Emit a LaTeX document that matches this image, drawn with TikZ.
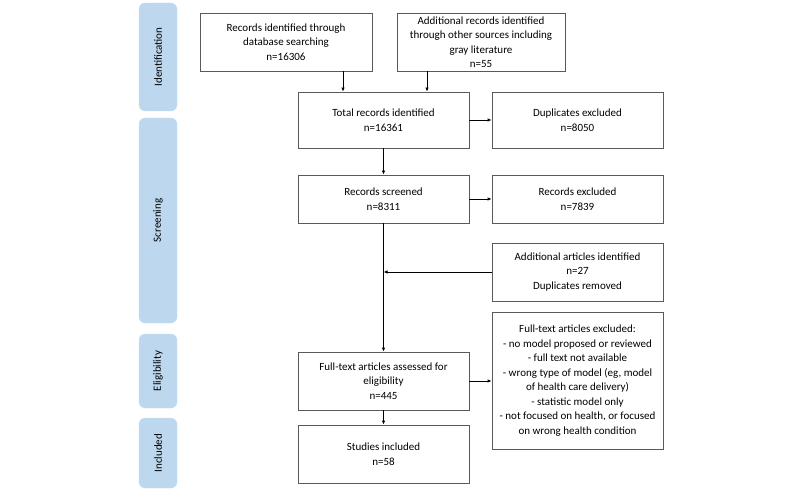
\documentclass[tikz,border=0pt]{standalone}
\usepackage{fontspec}
\setmainfont{Carlito}
\usetikzlibrary{arrows.meta}
\definecolor{fasebg}{HTML}{BDD7EE}
\definecolor{cajaborde}{HTML}{595959}
\begin{document}
\begin{tikzpicture}[x=1pt,y=-1pt,
    fase/.style={draw=fasebg!80!white,fill=fasebg,rounded corners=6pt,minimum width=38pt,inner sep=0pt},
    faseletra/.style={rotate=90,font=\fontsize{11}{14}\selectfont},
    caja/.style={draw=cajaborde,thick,align=center,minimum width=171pt,inner sep=2pt,font=\fontsize{11}{14.5}\selectfont},
    flecha/.style={-{Latex[length=4pt,width=3.5pt]},thick}]

    \useasboundingbox (0,0) rectangle (800,494);

    % Fases
    \node[fase,minimum height=108pt] (ident) at (158,57) {};
    \node[faseletra] at (ident) {Identification};
    \node[fase,minimum height=205pt] (cribado) at (158,220.5) {};
    \node[faseletra] at (cribado) {Screening};
    \node[fase,minimum height=74pt] (elegib) at (158,371) {};
    \node[faseletra] at (elegib) {Eligibility};
    \node[fase,minimum height=70pt] (incl) at (158,453) {};
    \node[faseletra] at (incl) {Included};

    % Cajas
    \node[caja,minimum width=172pt,minimum height=58pt] (bases) at (286,42) {Records identified through\\database searching\\n=16306};
    \node[caja,minimum width=168pt,minimum height=58pt] (otras) at (481,42) {Additional records identified\\through other sources including\\gray literature\\n=55};
    \node[caja,minimum height=56pt] (total) at (383.5,120) {Total records identified\\n=16361};
    \node[caja,minimum height=56pt] (dupl) at (577.5,120) {Duplicates excluded\\n=8050};
    \node[caja,minimum height=48pt] (cribados) at (383.5,199) {Records screened\\n=8311};
    \node[caja,minimum height=48pt] (excl) at (577.5,199) {Records excluded\\n=7839};
    \node[caja,minimum height=58pt] (adic) at (577.5,272) {Additional articles identified\\n=27\\Duplicates removed};
    \node[caja,minimum height=137pt] (textoexcl) at (577.5,380.5) {Full-text articles excluded:\\- no model proposed or reviewed\\- full text not available\\- wrong type of model (eg, model\\of health care delivery)\\- statistic model only\\- not focused on health, or focused\\on wrong health condition};
    \node[caja,minimum height=58pt] (texto) at (383.5,381) {Full-text articles assessed for\\eligibility\\n=445};
    \node[caja,minimum height=58pt] (incluidos) at (383.5,454) {Studies included\\n=58};

    % Flechas
    \draw[flecha] ([xshift=-40.5pt]total.north |- bases.south) -- ([xshift=-40.5pt]total.north);
    \draw[flecha] ([xshift=43.5pt]total.north |- otras.south) -- ([xshift=43.5pt]total.north);
    \draw[flecha] (total.east) -- (dupl.west);
    \draw[flecha] (total.south) -- (cribados.north);
    \draw[flecha] (cribados.east) -- (excl.west);
    \draw[flecha] (cribados.south) -- (texto.north);
    \draw[flecha] (adic.west) -- (adic.west -| cribados.south);
    \draw[flecha] (texto.east) -- (textoexcl.west |- texto.east);
    \draw[flecha] (texto.south) -- (incluidos.north);

\end{tikzpicture}
\end{document}
